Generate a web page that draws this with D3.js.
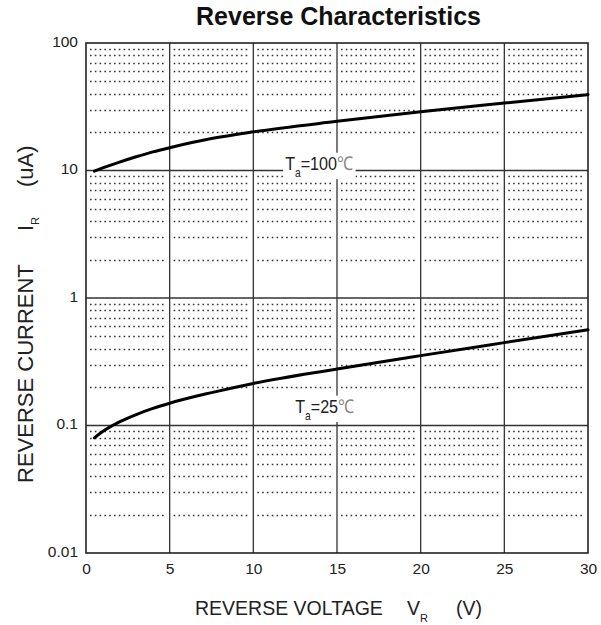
<!DOCTYPE html>
<html>
<head>
<meta charset="utf-8">
<script src="https://cdn.jsdelivr.net/npm/d3@7"></script>
<style>
  html, body { margin: 0; padding: 0; background: #fff; }
  svg { display: block; }
  text { font-family: "Liberation Sans", Arial, sans-serif; fill: #222; }
</style>
</head>
<body>
<svg id="chart" width="601" height="625"></svg>
<script>
// ---- data ----
const chartTitle = "Reverse Characteristics";
const xTickValues = [0, 5, 10, 15, 20, 25, 30];
const xTickLabels = ["0", "5", "10", "15", "20", "25", "30"];
const yTickValues = [0.01, 0.1, 1, 10, 100];
const yTickLabels = ["0.01", "0.1", "1", "10", "100"];

// Ta = 100 C
const voltage100 = [0.5, 1, 2, 3, 4, 5, 7.5, 10, 15, 20, 25, 30];
const current100 = [9.89, 10.47, 11.64, 12.82, 14.0, 15.1, 17.8, 20.1, 24.3, 28.9, 33.8, 39.4];
// Ta = 25 C
const voltage25 = [0.5, 1, 2, 3, 4, 5, 7.5, 10, 15, 20, 25, 30];
const current25 = [0.080, 0.0897, 0.1067, 0.1219, 0.1361, 0.1496, 0.1811, 0.2138, 0.2773, 0.3532, 0.4467, 0.5636];

const curveLabels = [
  { temp: "100", v: 11.9, i: 10.1 },
  { temp: "25", v: 12.5, i: 0.1256 }
];

// ---- layout ----
const svg = d3.select("#chart");
const pLeft = 86, pRight = 588, pTop = 43, pBottom = 553;

const x = d3.scaleLinear().domain([0, 30]).range([pLeft, pRight]);
const y = d3.scaleLog().domain([0.01, 100]).range([pBottom, pTop]);

// minor dotted gridlines (2..9 per decade), drawn per column with a small inset
const minorVals = [];
[0.01, 0.1, 1, 10].forEach(d => { for (let k = 2; k <= 9; k++) minorVals.push(d * k); });
const cols = d3.pairs(xTickValues);
const gMinor = svg.append("g");
cols.forEach(([a, b]) => {
  gMinor.selectAll(null).data(minorVals).enter().append("line")
    .attr("x1", x(a) + 4).attr("x2", x(b) - 4)
    .attr("y1", d => Math.round(y(d)) + 0.5).attr("y2", d => Math.round(y(d)) + 0.5)
    .attr("stroke", "#333").attr("stroke-width", 1.3)
    .attr("stroke-dasharray", "1.6,3.2");
});

// major gridlines
const gMajor = svg.append("g");
gMajor.selectAll(null).data(xTickValues.slice(1, -1)).enter().append("line")
  .attr("x1", d => x(d)).attr("x2", d => x(d))
  .attr("y1", pTop).attr("y2", pBottom)
  .attr("stroke", "#333").attr("stroke-width", 1.3);
gMajor.selectAll(null).data(yTickValues.slice(1, -1)).enter().append("line")
  .attr("x1", pLeft).attr("x2", pRight)
  .attr("y1", d => y(d)).attr("y2", d => y(d))
  .attr("stroke", "#333").attr("stroke-width", 1.3);

// border
svg.append("rect")
  .attr("x", pLeft).attr("y", pTop)
  .attr("width", pRight - pLeft).attr("height", pBottom - pTop)
  .attr("fill", "none").attr("stroke", "#222").attr("stroke-width", 1.6);

// axes tick labels
const yAxis = d3.axisLeft(y).tickValues(yTickValues)
  .tickFormat((d, i) => yTickLabels[i]).tickSize(0).tickPadding(8);
const gy = svg.append("g").attr("transform", `translate(${pLeft},0)`).call(yAxis);
gy.select(".domain").remove();
gy.selectAll("text").style("font-size", "15.5px").attr("dy", "0.22em").attr("fill", "#222")
  .style("font-family", '"Liberation Sans", Arial, sans-serif');

const xAxis = d3.axisBottom(x).tickValues(xTickValues)
  .tickFormat((d, i) => xTickLabels[i]).tickSize(0).tickPadding(10);
const gx = svg.append("g").attr("transform", `translate(0,${pBottom})`).call(xAxis);
gx.select(".domain").remove();
gx.selectAll("text").style("font-size", "15.5px").attr("fill", "#222")
  .style("font-family", '"Liberation Sans", Arial, sans-serif');

// curve labels (narrow font look via horizontal scale)
const sx = 0.85;
curveLabels.forEach(lb => {
  const g = svg.append("g")
    .attr("transform", `translate(${x(lb.v)},${y(lb.i)}) scale(${sx},1)`);
  const t = g.append("text").style("font-size", "19px");
  t.append("tspan").text("T");
  t.append("tspan").attr("dy", 7).style("font-size", "12px").text("a");
  t.append("tspan").attr("dy", -7).text("=" + lb.temp);
  t.append("tspan").style("fill", "#888").text("\u2103");
  const bb = t.node().getBBox();
  g.insert("rect", "text")
    .attr("x", bb.x - 2 / sx).attr("y", bb.y)
    .attr("width", bb.width + 4 / sx).attr("height", bb.height)
    .attr("fill", "#fff");
});

// curves
const line = d3.line().x(d => x(d[0])).y(d => y(d[1])).curve(d3.curveMonotoneX);
svg.append("path").datum(d3.zip(voltage100, current100))
  .attr("d", line).attr("fill", "none").attr("stroke", "#000")
  .attr("stroke-width", 3).attr("stroke-linecap", "round");
svg.append("path").datum(d3.zip(voltage25, current25))
  .attr("d", line).attr("fill", "none").attr("stroke", "#000")
  .attr("stroke-width", 3).attr("stroke-linecap", "round");

// title
svg.append("text")
  .attr("x", (pLeft + pRight) / 2 + 1.5).attr("y", 25)
  .attr("text-anchor", "middle")
  .style("font-size", "25px").style("font-weight", "bold").style("fill", "#111")
  .text(chartTitle);

// x axis title
const xt = svg.append("text").attr("x", 195).attr("y", 615).style("font-size", "19.5px");
xt.append("tspan").text("REVERSE VOLTAGE");
xt.append("tspan").attr("x", 407).text("V");
xt.append("tspan").attr("dy", 7).style("font-size", "11px").text("R");
xt.append("tspan").attr("x", 456).attr("dy", -7).text("(V)");

// y axis title (rotated)
const yt = svg.append("text")
  .attr("transform", "translate(33,483) rotate(-90)")
  .style("font-size", "22px");
yt.append("tspan").attr("x", 0).text("REVERSE CURRENT");
yt.append("tspan").attr("x", 252).text("I");
yt.append("tspan").attr("dy", 6).style("font-size", "11px").text("R");
yt.append("tspan").attr("x", 296).attr("dy", -6).text("(uA)");
</script>
</body>
</html>
